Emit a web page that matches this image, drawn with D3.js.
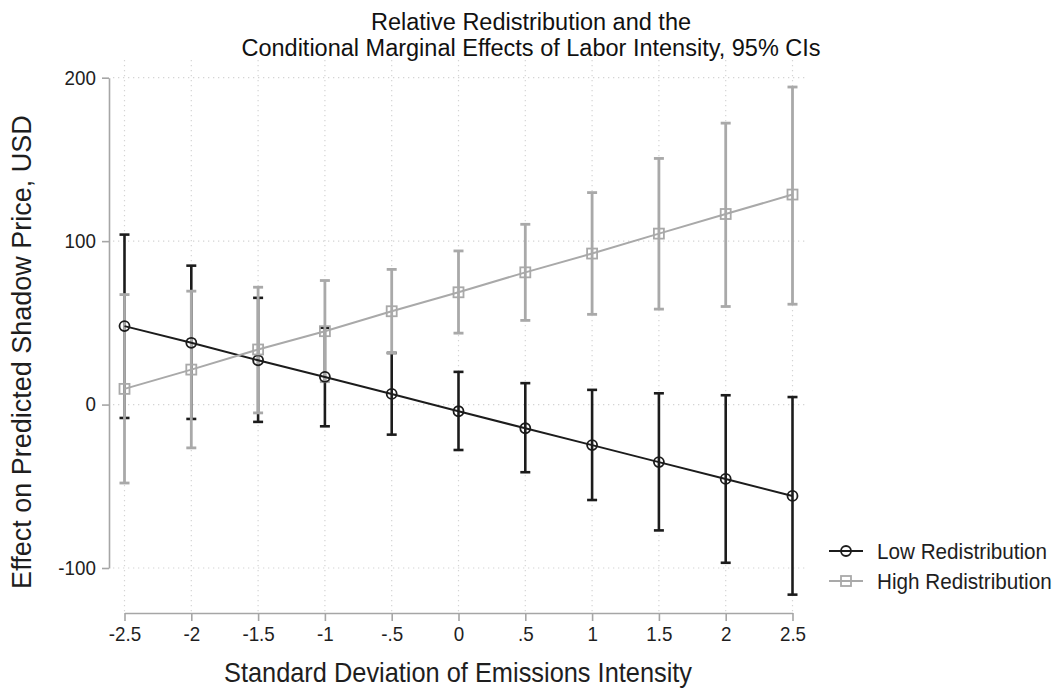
<!DOCTYPE html>
<html>
<head>
<meta charset="utf-8">
<script src="https://cdn.jsdelivr.net/npm/d3@7"></script>
<style>
  html, body { margin: 0; padding: 0; background: #fff; }
  svg { display: block; font-family: "Liberation Sans", Arial, sans-serif; }
</style>
</head>
<body>
<svg id="chart" width="1056" height="692"></svg>
<script>
// Standard deviations of emissions intensity at which margins were evaluated
const xValues = [-2.5, -2, -1.5, -1, -0.5, 0, 0.5, 1, 1.5, 2, 2.5];
const xTickLabels = ["-2.5", "-2", "-1.5", "-1", "-.5", "0", ".5", "1", "1.5", "2", "2.5"];
const yTicks = [-100, 0, 100, 200];
const yTickLabels = ["-100", "0", "100", "200"];

// Low redistribution: marginal effect and 95% CI bounds
const lowEst   = [48.0, 37.8, 27.1, 16.9, 6.5, -4.1, -14.5, -24.8, -35.2, -45.5, -55.9];
const lowUpper = [104.0, 85.0, 65.3, 47.0, 31.6, 20.0, 13.1, 9.0, 6.9, 5.7, 4.6];
const lowLower = [-8.2, -8.8, -10.6, -13.3, -18.4, -27.8, -41.4, -58.4, -77.0, -96.8, -116.3];

// High redistribution: marginal effect and 95% CI bounds
const highEst   = [9.6, 21.4, 33.7, 44.9, 57.1, 68.7, 80.9, 92.4, 104.6, 116.6, 128.5];
const highUpper = [67.3, 69.4, 71.8, 75.9, 82.7, 94.0, 110.3, 129.7, 150.6, 172.2, 194.3];
const highLower = [-48.0, -26.5, -5.1, 14.0, 31.5, 43.7, 51.5, 55.2, 58.4, 60.0, 61.4];

const seriesNames = ["Low Redistribution", "High Redistribution"];
const titleLines = ["Relative Redistribution and the",
                    "Conditional Marginal Effects of Labor Intensity, 95% CIs"];
const xTitle = "Standard Deviation of Emissions Intensity";
const yTitle = "Effect on Predicted Shadow Price, USD";

const svg = d3.select("#chart");
const SX = 0.94; // horizontal squeeze applied to text glyphs

const x = d3.scaleLinear().domain([-2.5, 2.5]).range([124.5, 792.5]);
const y = d3.scaleLinear().domain([-100, 200]).range([568, 77.7]);

const plotLeft = 113, plotRight = 808, plotTop = 60, plotBottom = 612;

// Dotted grid
const grid = svg.append("g");
grid.selectAll("line.h").data(yTicks).join("line")
  .attr("x1", plotLeft).attr("x2", plotRight)
  .attr("y1", d => y(d)).attr("y2", d => y(d))
  .attr("stroke", "#d4d4d4").attr("stroke-width", 1.2)
  .attr("stroke-dasharray", "1.3,3.7");
grid.selectAll("line.v").data(xValues).join("line")
  .attr("x1", d => x(d)).attr("x2", d => x(d))
  .attr("y1", plotTop).attr("y2", plotBottom)
  .attr("stroke", "#d4d4d4").attr("stroke-width", 1.2)
  .attr("stroke-dasharray", "1.3,3.7");

// Axes
const axisColor = "#a6a6a6";
const xAxis = svg.append("g")
  .attr("transform", `translate(0,${plotBottom + 1})`)
  .call(d3.axisBottom(x).tickValues(xValues)
    .tickFormat((d, i) => xTickLabels[i]).tickSize(8).tickSizeOuter(0).tickPadding(6));
const yAxis = svg.append("g")
  .attr("transform", `translate(109,0)`)
  .call(d3.axisLeft(y).tickValues(yTicks).tickFormat((d, i) => yTickLabels[i])
    .tickSize(7).tickSizeOuter(0).tickPadding(7));

[xAxis, yAxis].forEach(a => {
  a.select(".domain").attr("stroke", axisColor).attr("stroke-width", 1.6);
  a.selectAll(".tick line").attr("stroke", axisColor).attr("stroke-width", 1.6);
  a.selectAll(".tick text")
    .attr("fill", "#1e1e1e")
    .attr("transform", `scale(${SX},1)`)
    .style("font-family", "'Liberation Sans', Arial, sans-serif")
    .style("font-size", "20px");
});

// Confidence intervals (low first, high on top)
const capHalf = 5;
function drawCIs(upper, lower, color, width) {
  const g = svg.append("g").attr("stroke", color).attr("stroke-width", width).attr("fill", "none");
  const idx = d3.range(xValues.length);
  g.selectAll("line.bar").data(idx).join("line")
    .attr("x1", i => x(xValues[i])).attr("x2", i => x(xValues[i]))
    .attr("y1", i => y(upper[i])).attr("y2", i => y(lower[i]));
  g.selectAll("line.top").data(idx).join("line")
    .attr("x1", i => x(xValues[i]) - capHalf).attr("x2", i => x(xValues[i]) + capHalf)
    .attr("y1", i => y(upper[i])).attr("y2", i => y(upper[i]));
  g.selectAll("line.bot").data(idx).join("line")
    .attr("x1", i => x(xValues[i]) - capHalf).attr("x2", i => x(xValues[i]) + capHalf)
    .attr("y1", i => y(lower[i])).attr("y2", i => y(lower[i]));
}
const lowColor = "#1c1c1c", highColor = "#a9a9a9";
drawCIs(lowUpper, lowLower, lowColor, 2.6);
drawCIs(highUpper, highLower, highColor, 2.8);

// Connected estimates
const line = d3.line().x(d => x(d[0])).y(d => y(d[1]));
function drawSeries(est, color, marker) {
  const pts = xValues.map((v, i) => [v, est[i]]);
  svg.append("path").datum(pts).attr("d", line)
    .attr("fill", "none").attr("stroke", color).attr("stroke-width", 2);
  const g = svg.append("g");
  if (marker === "circle") {
    g.selectAll("circle").data(pts).join("circle")
      .attr("cx", d => x(d[0])).attr("cy", d => y(d[1])).attr("r", 5)
      .attr("fill", "none").attr("stroke", color).attr("stroke-width", 1.8);
  } else {
    g.selectAll("rect").data(pts).join("rect")
      .attr("x", d => x(d[0]) - 5).attr("y", d => y(d[1]) - 5)
      .attr("width", 10).attr("height", 10)
      .attr("fill", "none").attr("stroke", color).attr("stroke-width", 1.8);
  }
}
drawSeries(lowEst, lowColor, "circle");
drawSeries(highEst, highColor, "square");

// Text helper: optionally squeezed horizontally around its anchor point
function label(txt, px, py, size, anchor, fill, sx = SX) {
  return svg.append("text")
    .attr("transform", `translate(${px},${py}) scale(${sx},1)`)
    .attr("text-anchor", anchor)
    .attr("fill", fill)
    .style("font-size", size + "px")
    .text(txt);
}

// Title
label(titleLines[0], 531, 29.5, 23.5, "middle", "#111", 1);
label(titleLines[1], 531, 56, 23.5, "middle", "#111", 1);

// Axis titles
label(xTitle, 458, 682, 27, "middle", "#1e1e1e");
svg.append("text")
  .attr("transform", "translate(31,352) rotate(-90)")
  .attr("text-anchor", "middle")
  .attr("fill", "#1e1e1e")
  .style("font-size", "27px")
  .text(yTitle);

// Legend
const legendRows = [
  { name: seriesNames[0], color: lowColor, marker: "circle", cy: 551 },
  { name: seriesNames[1], color: highColor, marker: "square", cy: 581 }
];
legendRows.forEach(r => {
  svg.append("line").attr("x1", 829).attr("x2", 863).attr("y1", r.cy).attr("y2", r.cy)
    .attr("stroke", r.color).attr("stroke-width", 2);
  if (r.marker === "circle") {
    svg.append("circle").attr("cx", 846).attr("cy", r.cy).attr("r", 5)
      .attr("fill", "none").attr("stroke", r.color).attr("stroke-width", 1.8);
  } else {
    svg.append("rect").attr("x", 841).attr("y", r.cy - 5).attr("width", 10).attr("height", 10)
      .attr("fill", "none").attr("stroke", r.color).attr("stroke-width", 1.8);
  }
  label(r.name, 877, r.cy + 8, 22, "start", "#1e1e1e");
});
</script>
</body>
</html>
